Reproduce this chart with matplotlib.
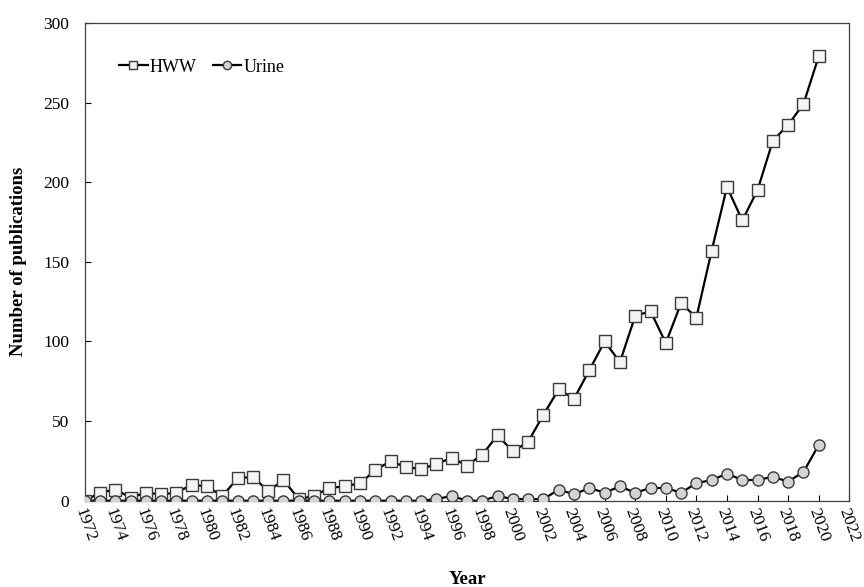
import matplotlib.pyplot as plt
import numpy as np

plt.rcParams['font.family'] = ['Liberation Serif', 'DejaVu Serif']

years = np.arange(1972, 2021)
hww = [0, 5, 7, 2, 5, 4, 5, 10, 9, 3,
       14, 15, 6, 13, 1, 3, 8, 9, 11, 19,
       25, 21, 20, 23, 27, 22, 29, 41, 31, 37,
       54, 70, 64, 82, 100, 87, 116, 119, 99, 124,
       115, 157, 197, 176, 195, 226, 236, 249, 279]
urine = [0, 0, 0, 0, 0, 0, 0, 0, 0, 0,
         0, 0, 0, 0, 0, 0, 0, 0, 0, 0,
         0, 0, 0, 1, 3, 0, 0, 3, 1, 1,
         1, 7, 4, 8, 5, 9, 5, 8, 8, 5,
         11, 13, 17, 13, 13, 15, 12, 18, 35]

fig, ax = plt.subplots(figsize=(8.64, 5.87), dpi=100)
fig.subplots_adjust(left=0.098, right=0.983, top=0.961, bottom=0.147)

ax.plot(years, hww, color='black', lw=1.6, marker='s', markersize=8,
        markerfacecolor='#f4f4f4', markeredgecolor='#3a3a3a', markeredgewidth=1.0,
        label='HWW', zorder=3)
ax.plot(years, urine, color='black', lw=1.6, marker='o', markersize=8,
        markerfacecolor='#d4d4d4', markeredgecolor='#3a3a3a', markeredgewidth=1.0,
        label='Urine', zorder=3)

ax.set_xlim(1972, 2022)
ax.set_ylim(0, 300)
ax.set_xticks(np.arange(1972, 2023, 2))
ax.set_yticks(np.arange(0, 301, 50))
ax.tick_params(direction='in', length=4, width=0.8, labelsize=12.5, colors='black')
ax.tick_params(axis='x', pad=4)
ax.tick_params(axis='y', pad=11)
plt.setp(ax.get_xticklabels(), rotation=-70, ha='center')
for s in ax.spines.values():
    s.set_color('#404040')
    s.set_linewidth(0.9)

ax.set_ylabel('Number of publications', fontsize=13.5, fontweight='bold', labelpad=12)
ax.set_xlabel('Year', fontsize=13.5, fontweight='bold', labelpad=19)

ax.legend(loc='upper left', ncol=2, frameon=False, fontsize=13, handlelength=1.6,
          handletextpad=0.1, columnspacing=0.9, markerscale=0.75,
          bbox_to_anchor=(0.035, 0.94), borderaxespad=0)

fig.savefig('out.png', dpi=100)
